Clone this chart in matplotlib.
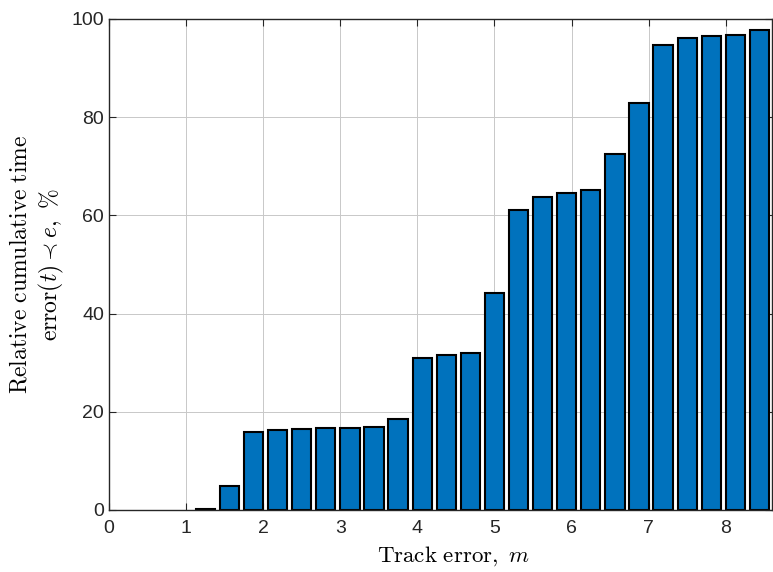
import matplotlib.pyplot as plt
import numpy as np

plt.rcParams['mathtext.fontset'] = 'cm'

# bin centres (m) and cumulative share (%)
bin_width = 0.3125
centres = np.arange(28) * bin_width
cum_pct = [0, 0, 0, 0, 0.2, 4.9, 15.9, 16.3, 16.5, 16.7, 16.8, 17.0, 18.5, 30.9,
           31.5, 32.0, 44.2, 61.0, 63.8, 64.6, 65.2, 72.6, 82.9, 94.7, 96.1, 96.5,
           96.8, 97.7]
xticks = [0, 1, 2, 3, 4, 5, 6, 7, 8]
yticks = [0, 20, 40, 60, 80, 100]

fig = plt.figure(figsize=(7.73, 5.72), dpi=100)
ax = fig.add_axes([0.141, 0.1084, 0.8577, 0.8584])

edges = ['black' if v > 0 else 'none' for v in cum_pct]
ax.bar(centres, cum_pct, width=0.8 * bin_width, color='#0072BD',
       edgecolor=edges, linewidth=1.5, zorder=2)

ax.set_xlim(0, 8.6)
ax.set_ylim(0, 100)
ax.set_xticks(xticks)
ax.set_yticks(yticks)
ax.grid(True, color='#c8c8c8', linewidth=0.7, zorder=0)
ax.set_axisbelow(True)

for s in ax.spines.values():
    s.set_color('#262626')
    s.set_linewidth(1.0)
    s.set_zorder(3)
ax.tick_params(direction='in', top=True, right=True, length=5, width=0.8,
               colors='#262626', labelsize=14)
for lab in ax.get_xticklabels() + ax.get_yticklabels():
    lab.set_family('Liberation Sans')
ax.tick_params(axis='x', pad=7)

ax.set_xlabel(r'$\mathrm{Track\ error},\ m$', fontsize=16.5)
ax.xaxis.set_label_coords(0.52, -0.07)
ax.set_ylabel(r'$\mathrm{Relative\ cumulative\ time}$' + '\n' +
              r'$\mathrm{error}(t)\prec e,\ \%$', fontsize=17, labelpad=4,
              linespacing=1.25)

fig.savefig('out.png', dpi=100)
